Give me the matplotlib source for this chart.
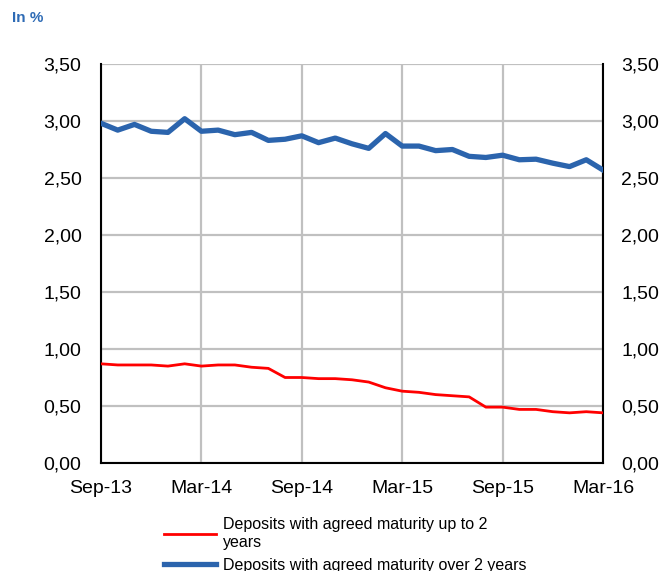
import matplotlib.pyplot as plt

plt.rcParams['font.family'] = ['Liberation Sans', 'DejaVu Sans']

months = ["Sep-13", "Oct-13", "Nov-13", "Dec-13", "Jan-14", "Feb-14", "Mar-14",
          "Apr-14", "May-14", "Jun-14", "Jul-14", "Aug-14", "Sep-14", "Oct-14",
          "Nov-14", "Dec-14", "Jan-15", "Feb-15", "Mar-15", "Apr-15", "May-15",
          "Jun-15", "Jul-15", "Aug-15", "Sep-15", "Oct-15", "Nov-15", "Dec-15",
          "Jan-16", "Feb-16", "Mar-16"]

up_to_2y = [0.87, 0.86, 0.86, 0.86, 0.85, 0.87, 0.85, 0.86, 0.86, 0.84,
            0.83, 0.75, 0.75, 0.74, 0.74, 0.73, 0.71, 0.66, 0.63, 0.62,
            0.60, 0.59, 0.58, 0.49, 0.49, 0.47, 0.47, 0.45, 0.44, 0.45, 0.44]

over_2y = [2.98, 2.92, 2.97, 2.91, 2.90, 3.02, 2.91, 2.92, 2.88, 2.90,
           2.83, 2.84, 2.87, 2.81, 2.85, 2.80, 2.76, 2.89, 2.78, 2.78,
           2.74, 2.75, 2.69, 2.68, 2.70, 2.66, 2.665, 2.63, 2.60, 2.66, 2.57]

yticks = [0.0, 0.5, 1.0, 1.5, 2.0, 2.5, 3.0, 3.5]
ytick_labels = [f"{v:.2f}".replace(".", ",") for v in yticks]

fig = plt.figure(figsize=(6.66, 5.71), dpi=100)
ax = fig.add_axes([101 / 666, 1 - 463 / 571, 502 / 666, 399 / 571])

x = list(range(len(months)))
ax.plot(x, up_to_2y, color="#ff0000", lw=2.0,
        label="Deposits with agreed maturity up to 2\nyears", zorder=3)
ax.plot(x, over_2y, color="#2b64ad", lw=3.8,
        label="Deposits with agreed maturity over 2 years", zorder=3)

ax.set_xlim(0, len(months) - 1)
ax.set_ylim(0, 3.5)
ticks = x[::6]
ax.set_xticks(ticks)
ax.set_xticklabels([months[i] for i in ticks], fontsize=14)
ax.set_yticks(yticks)
ax.set_yticklabels(ytick_labels, fontsize=14)
ax.tick_params(length=0)
ax.tick_params(axis="y", pad=14)
ax.tick_params(axis="x", pad=12)
ax.grid(True, color="#c0c0c0", lw=1.6, zorder=0, solid_capstyle="butt")
ax.set_axisbelow(True)
for side in ["left", "right", "bottom"]:
    ax.spines[side].set_color("black")
    ax.spines[side].set_linewidth(1.5)
ax.spines["top"].set_visible(False)

ax2 = ax.twinx()
ax2.set_ylim(0, 3.5)
ax2.set_yticks(yticks)
ax2.set_yticklabels(ytick_labels, fontsize=14)
ax2.tick_params(length=0, pad=13)
for s in ax2.spines.values():
    s.set_visible(False)

fig.text(12 / 666, 1 - 18 / 571, "In %", color="#2e6bb5", fontsize=11,
         fontweight="bold", va="center")

fig.legend(loc="upper left", bbox_to_anchor=(158 / 666, 1 - 511 / 571),
           frameon=False, fontsize=11.5, handlelength=3.2, handletextpad=0.45,
           labelspacing=0.5, borderaxespad=0)

fig.savefig("out.png", dpi=100)
